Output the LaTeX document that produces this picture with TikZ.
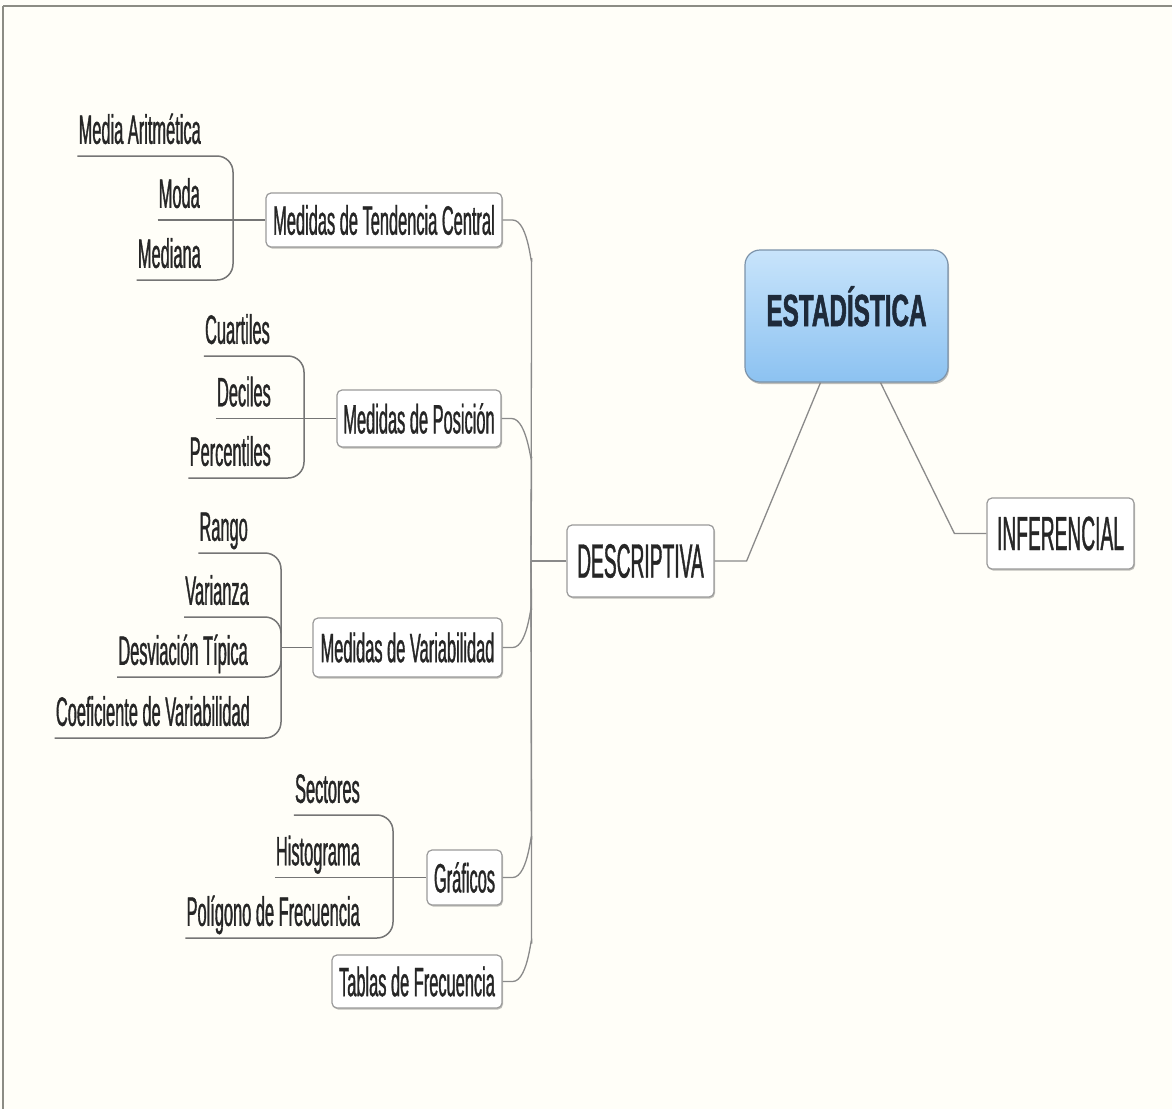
\documentclass[tikz,border=0pt]{standalone}
\usepackage{fontspec}
\setmainfont{Liberation Sans}[FakeStretch=0.4,FakeBold=0.8]
\newfontfamily\titlefont{Liberation Sans}[FakeStretch=0.54,FakeBold=1.2]
\usetikzlibrary{shadows}
\definecolor{bgc}{HTML}{FFFEF8}
\definecolor{linec}{HTML}{8A8A8A}
\definecolor{boxline}{HTML}{9A9A9A}
\definecolor{esttop}{HTML}{C8E4FB}
\definecolor{estbot}{HTML}{8CC2F1}
\definecolor{estline}{HTML}{7C93AA}
\definecolor{esttext}{HTML}{1E2A3A}
\definecolor{framec}{HTML}{8C8C84}
\begin{document}
\begin{tikzpicture}[x=1pt,y=-1pt,
  conn/.style={draw=linec, line width=1.3pt},
  leafline/.style={draw=linec!85!black, line width=1.5pt, rounded corners=16pt},
  box/.style={draw=boxline, line width=1.2pt, fill=white, rounded corners=5pt, inner sep=0pt,
    font=\fontsize{41}{45}\selectfont, text=black!85,
    drop shadow={shadow xshift=1pt, shadow yshift=-1.5pt, opacity=0.25, fill=black}},
  bigbox/.style={box, font=\fontsize{48}{52}\selectfont},
  estbox/.style={draw=estline, line width=1.2pt, rounded corners=15pt, top color=esttop, bottom color=estbot,
    inner sep=0pt, text=esttext, font=\titlefont\bfseries\fontsize{45}{50}\selectfont,
    drop shadow={shadow xshift=1pt, shadow yshift=-2pt, opacity=0.25, fill=black}},
  leaf/.style={anchor=south east, inner xsep=1pt, inner ysep=5pt, text depth=7pt,
    font=\fontsize{41}{45}\selectfont, text=black!85}]
\useasboundingbox (0,0) rectangle (1172,1109);
\fill[bgc] (0,0) rectangle (1172,1109);
\draw[framec, line width=2.5pt] (3,6) -- (1172,6);
\draw[framec, line width=1.2pt] (3,6) -- (3,1109);

% central
\node[estbox, minimum width=203pt, minimum height=132pt] (est) at (846.5,316) {\raisebox{-10pt}[0pt][0pt]{ESTADÍSTICA}};
\node[bigbox, minimum width=147pt, minimum height=72pt] (desc) at (640.5,561) {DESCRIPTIVA};
\node[bigbox, minimum width=147pt, minimum height=71pt] (inf) at (1060.5,533.5) {INFERENCIAL};
\draw[conn] (desc.east) -- ++(32,0) -- ([xshift=-26pt]est.south);
\draw[conn] (inf.west) -- ++(-32,0) -- ([xshift=34pt]est.south);

% branches
\node[box, minimum width=236pt, minimum height=54pt] (mtc) at (384,220) {Medidas de Tendencia Central};
\node[box, minimum width=164pt, minimum height=57pt] (mp) at (419,418.5) {Medidas de Posición};
\node[box, minimum width=189pt, minimum height=59pt] (mv) at (407.5,647.5) {Medidas de Variabilidad};
\node[box, minimum width=75pt, minimum height=55pt] (gr) at (464.5,877.5) {Gráficos};
\node[box, minimum width=170pt, minimum height=53pt] (tf) at (417,981.5) {Tablas de Frecuencia};

\coordinate (tr) at (531,561);
\draw[conn] (desc.west) -- (tr);
\draw[conn] (mtc.east) -- ++(10,0) to[out=0,in=-90] ++(19,38) -- (tr);
\draw[conn] (mp.east) -- ++(10,0) to[out=0,in=-90] ++(20,38) -- (tr);
\draw[conn] (mv.east) -- ++(10,0) to[out=0,in=90] ++(19,-38) -- (tr);
\draw[conn] (gr.east) -- ++(10,0) to[out=0,in=90] ++(19,-38) -- (tr);
\draw[conn] (tf.east) -- ++(10,0) to[out=0,in=90] ++(19,-38) -- (tr);

% group 1
\node[leaf] (ma) at (202,156) {Media Aritmética};
\node[leaf] (moda) at (201,220) {Moda};
\node[leaf] (med) at (202,280) {Mediana};
\coordinate (b1) at (233,220);
\draw[leafline] (ma.south west) -| (b1);
\draw[leafline] (med.south west) -| (b1);
\draw[leafline] (moda.south west) -- (mtc.west);

% group 2
\node[leaf] (cua) at (271,356) {Cuartiles};
\node[leaf] (dec) at (272,418.5) {Deciles};
\node[leaf] (per) at (272,478) {Percentiles};
\coordinate (b2) at (304,418.5);
\draw[leafline] (cua.south west) -| (b2);
\draw[leafline] (per.south west) -| (b2);
\draw[leafline] (dec.south west) -- (mp.west);

% group 3
\node[leaf] (ran) at (249,553) {Rango};
\node[leaf] (var) at (250,617) {Varianza};
\node[leaf] (des) at (249,677) {Desviación Típica};
\node[leaf] (coe) at (251,738) {Coeficiente de Variabilidad};
\coordinate (b3) at (281,647.5);
\draw[leafline] (ran.south west) -| (b3);
\draw[leafline] (var.south west) -| (b3);
\draw[leafline] (des.south west) -| (b3);
\draw[leafline] (coe.south west) -| (b3);
\draw[leafline] (b3) -- (mv.west);

% group 4
\node[leaf] (sec) at (361,815) {Sectores};
\node[leaf] (his) at (361,877.5) {Histograma};
\node[leaf] (pol) at (361,938) {Polígono de Frecuencia};
\coordinate (b4) at (393,877.5);
\draw[leafline] (sec.south west) -| (b4);
\draw[leafline] (pol.south west) -| (b4);
\draw[leafline] (his.south west) -- (gr.west);
\end{tikzpicture}
\end{document}
